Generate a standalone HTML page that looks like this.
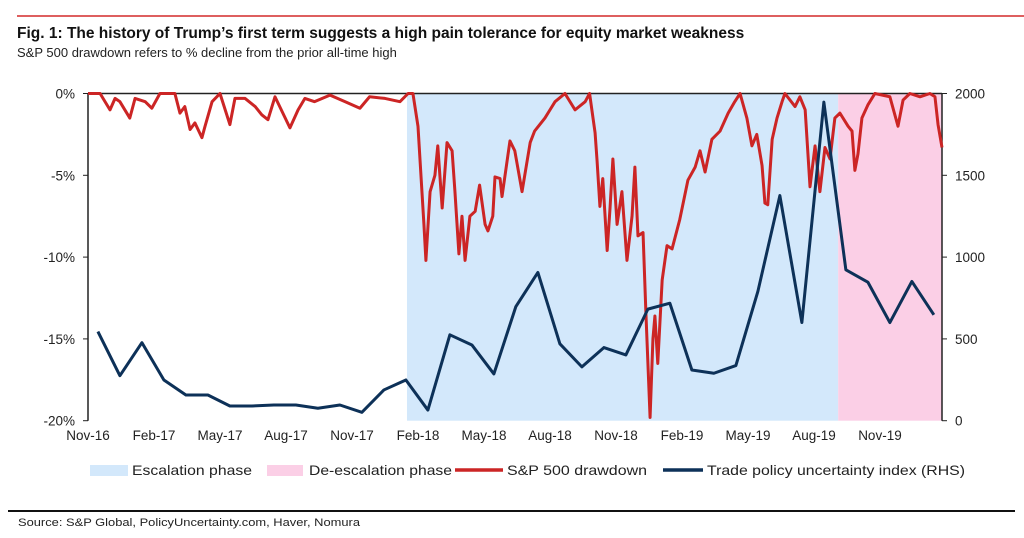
<!DOCTYPE html>
<html><head><meta charset="utf-8"><style>
body{margin:0;background:#fff;width:1024px;height:533px;overflow:hidden;font-family:"Liberation Sans",Arial,sans-serif;}
svg text{font-family:"Liberation Sans",Arial,sans-serif;}
</style></head><body>
<svg width="1024" height="533">
<line x1="17" y1="16" x2="1024" y2="16" stroke="#d42a2a" stroke-width="1.5"/>
<text x="17" y="38" font-size="15.5" font-weight="bold" fill="#111">Fig. 1: The history of Trump’s first term suggests a high pain tolerance for equity market weakness</text>
<text x="17" y="57" font-size="13" fill="#222">S&amp;P 500 drawdown refers to % decline from the prior all-time high</text>
<g id="plot"></g>
<g font-size="14" fill="#222">
<g><rect x="90" y="465" width="38" height="11" fill="#d3e8fb"/><text x="132" y="475" textLength="120" lengthAdjust="spacingAndGlyphs">Escalation phase</text></g>
<g><rect x="267" y="465" width="36" height="11" fill="#fbcfe6"/><text x="309" y="475" textLength="143" lengthAdjust="spacingAndGlyphs">De-escalation phase</text></g>
<g><line x1="455" y1="470" x2="503" y2="470" stroke="#cc2525" stroke-width="3.5"/><text x="507" y="475" textLength="140" lengthAdjust="spacingAndGlyphs">S&amp;P 500 drawdown</text></g>
<g><line x1="663" y1="470" x2="703" y2="470" stroke="#0d3158" stroke-width="3.5"/><text x="707" y="475" textLength="258" lengthAdjust="spacingAndGlyphs">Trade policy uncertainty index (RHS)</text></g>
</g>
<line x1="8" y1="511" x2="1015" y2="511" stroke="#111" stroke-width="2"/>
<text x="18" y="526" font-size="11" fill="#222" textLength="342" lengthAdjust="spacingAndGlyphs">Source: S&amp;P Global, PolicyUncertainty.com, Haver, Nomura</text>
</svg>
<script>
const xTickLabels=["Nov-16","Feb-17","May-17","Aug-17","Nov-17","Feb-18","May-18","Aug-18","Nov-18","Feb-19","May-19","Aug-19","Nov-19"];
const leftTicks=[0,-5,-10,-15,-20];
const rightTicks=[2000,1500,1000,500,0];
const phases=[{name:"escalation",start:14.5,end:34.1,color:"#d3e8fb"},{name:"de-escalation",start:34.1,end:38.82,color:"#fbcfe6"}];
const spT=[0,0.55,1.0,1.23,1.45,1.9,2.14,2.6,2.9,3.27,3.95,4.18,4.4,4.64,4.86,5.18,5.32,5.64,6.0,6.45,6.68,7.14,7.6,7.9,8.18,8.5,9.18,9.55,9.86,10.3,11.0,11.68,12.36,12.8,13.5,14.18,14.55,14.77,15.0,15.18,15.27,15.36,15.55,15.77,15.9,16.1,16.32,16.55,16.68,16.86,17.0,17.14,17.36,17.6,17.8,18.05,18.18,18.4,18.5,18.73,18.82,19.18,19.4,19.73,20.1,20.3,20.77,21.0,21.23,21.68,22.14,22.6,22.8,23.05,23.14,23.27,23.4,23.6,23.73,23.86,24.05,24.27,24.5,24.73,24.86,25.0,25.23,25.36,25.55,25.68,25.77,25.9,26.1,26.32,26.55,26.9,27.27,27.6,27.82,28.05,28.36,28.73,29.1,29.4,29.64,29.95,30.18,30.4,30.64,30.77,30.9,31.1,31.32,31.55,31.68,32.14,32.36,32.6,32.82,33.05,33.27,33.5,33.73,33.95,34.18,34.55,34.73,34.86,35.0,35.18,35.45,35.77,36.45,36.82,37.05,37.36,37.82,38.27,38.5,38.64,38.82];
const spDD=[0,0,-1.0,-0.3,-0.5,-1.5,-0.3,-0.5,-0.9,0,0,-1.2,-0.8,-2.2,-1.8,-2.7,-2.0,-0.5,0,-1.9,-0.3,-0.3,-0.8,-1.3,-1.6,-0.2,-2.1,-1.0,-0.3,-0.5,-0.1,-0.5,-0.9,-0.2,-0.3,-0.5,0,0,-2.0,-6,-8,-10.2,-6,-5,-3.2,-7,-3,-3.5,-6,-9.8,-7.5,-10.2,-7.5,-7.2,-5.6,-8,-8.4,-7.5,-5.1,-5.2,-6.3,-2.9,-3.5,-6.0,-3.0,-2.3,-1.5,-1.0,-0.5,0,-1.0,-0.5,0,-2.4,-4.1,-6.9,-5.2,-9.6,-7,-4.0,-8,-6,-10.2,-7.5,-4.5,-8.7,-8.5,-13.4,-19.8,-15,-13.6,-16.5,-11.4,-9.3,-9.5,-7.7,-5.3,-4.5,-3.5,-4.8,-2.8,-2.3,-1.2,-0.5,0,-1.5,-3.2,-2.5,-4.4,-6.7,-6.8,-2.8,-1.5,-0.5,0,-0.8,-0.2,-1.0,-5.7,-3.2,-6.0,-3.3,-4.0,-1.5,-1.2,-2.0,-2.3,-4.7,-3.7,-1.5,-0.7,0,-0.2,-2.0,-0.4,0,-0.2,0,-0.2,-1.9,-3.3];
const tpuStart=0.45;
const tpu=[545,275,477,249,157,157,90,90,96,96,76,96,51,188,249,65,525,463,286,698,906,470,329,447,402,682,718,310,290,337,790,1376,600,1947,922,847,600,851,647];
const X0=88,X1=942,Y0=93.5,Y1=420.7,TMAX=38.82;
const xs=t=>X0+(t/TMAX)*(X1-X0);
const yl=v=>Y0+(-v/20)*(Y1-Y0);
const yr=v=>Y1-(v/2000)*(Y1-Y0);
const NS="http://www.w3.org/2000/svg";
const g=document.getElementById('plot');
function mk(tag,attrs,parent){const e=document.createElementNS(NS,tag);for(const k in attrs)e.setAttribute(k,attrs[k]);(parent||g).appendChild(e);return e;}
phases.forEach(p=>{
 const r=mk('rect',{x:xs(p.start),y:Y0,width:xs(p.end)-xs(p.start),height:Y1-Y0,fill:p.color});
 
 
});
const ax=mk('path',{d:`M${X0},${Y0}V${Y1}M${X1},${Y0}V${Y1}M${X0},${Y0}H${X1}`,stroke:'#222','stroke-width':1.5,fill:'none'});


leftTicks.forEach(v=>{
 const y=yl(v);
 mk('line',{x1:X0-5,y1:y,x2:X0,y2:y,stroke:'#222'});
 const t=mk('text',{x:75,y:y+5,'text-anchor':'end','font-size':13.5,fill:'#222'});t.textContent=v+'%';
 
 
});
rightTicks.forEach(v=>{
 const y=yr(v);
 mk('line',{x1:X1,y1:y,x2:X1+5,y2:y,stroke:'#222'});
 const t=mk('text',{x:955,y:y+5,'font-size':13.5,fill:'#222'});t.textContent=v;
 
 
});
xTickLabels.forEach((l,i)=>{
 const x=xs(i*3);
 const t=mk('text',{x:x,y:440,'text-anchor':'middle','font-size':13.5,fill:'#222'});t.textContent=l;
 
 
});
const sp=mk('polyline',{points:spT.map((t,i)=>xs(t)+','+yl(spDD[i])).join(' '),fill:'none',stroke:'#cc2525','stroke-width':3,'stroke-linejoin':'round'});


const tp=mk('polyline',{points:tpu.map((v,i)=>xs(tpuStart+i)+','+yr(v)).join(' '),fill:'none',stroke:'#0d3158','stroke-width':3,'stroke-linejoin':'round'});


</script>
</body></html>
